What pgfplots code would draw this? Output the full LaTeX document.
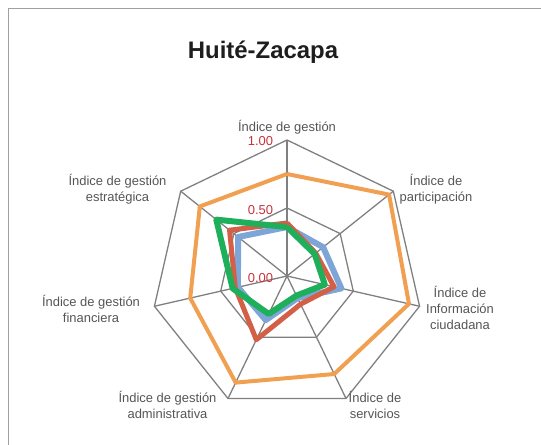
\documentclass[border=0pt]{standalone}
\usepackage{pgfplots}
\pgfplotsset{compat=1.18}
\usepgfplotslibrary{polar}
\usepackage{fontspec}
\setmainfont{Liberation Sans}
\definecolor{framegray}{RGB}{160,160,160}
\definecolor{gridgray}{RGB}{128,128,128}
\definecolor{labelcol}{RGB}{85,85,85}
\definecolor{titlecol}{RGB}{30,30,30}
\definecolor{tickred}{RGB}{200,50,60}
\definecolor{sorange}{RGB}{240,160,80}
\definecolor{sblue}{RGB}{125,165,215}
\definecolor{sred}{RGB}{210,95,70}
\definecolor{sgreen}{RGB}{30,175,90}
\begin{document}
\begin{tikzpicture}
\draw[framegray, line width=1bp] (8.5bp,-10bp) rectangle (560bp,436.5bp);
\node[font=\bfseries\fontsize{24}{28}\selectfont, text=titlecol, anchor=base] at (263bp,386bp) {Huité-Zacapa};
\begin{polaraxis}[
  at={(287bp,169bp)}, anchor=center,
  scale only axis, width=272bp, height=272bp,
  ymin=0, ymax=1, xmin=0, xmax=360,
  hide axis, clip=false,
]
% spokes
\addplot[gridgray, line width=1.3bp] coordinates {(90,0) (90,1)};
\addplot[gridgray, line width=1.3bp] coordinates {(38.571,0) (38.571,1)};
\addplot[gridgray, line width=1.3bp] coordinates {(-12.857,0) (-12.857,1)};
\addplot[gridgray, line width=1.3bp] coordinates {(-64.286,0) (-64.286,1)};
\addplot[gridgray, line width=1.3bp] coordinates {(-115.714,0) (-115.714,1)};
\addplot[gridgray, line width=1.3bp] coordinates {(-167.143,0) (-167.143,1)};
\addplot[gridgray, line width=1.3bp] coordinates {(141.429,0) (141.429,1)};
% rings
\addplot[gridgray, line width=1.3bp] coordinates {(90,0.5) (38.571,0.5) (-12.857,0.5) (-64.286,0.5) (-115.714,0.5) (-167.143,0.5) (141.429,0.5) (90,0.5)};
\addplot[gridgray, line width=1.3bp] coordinates {(90,1) (38.571,1) (-12.857,1) (-64.286,1) (-115.714,1) (-167.143,1) (141.429,1) (90,1)};
% series
\addplot[sorange, line width=4bp, line join=round] coordinates {(90,0.75) (38.571,0.96) (-12.857,0.92) (-64.286,0.80) (-115.714,0.87) (-167.143,0.73) (141.429,0.82) (90,0.75)};
\addplot[sblue, line width=6bp, line join=round] coordinates {(90,0.36) (38.571,0.34) (-12.857,0.41) (-64.286,0.18) (-115.714,0.36) (-167.143,0.37) (141.429,0.46) (90,0.36)};
\addplot[sred, line width=5bp, line join=round] coordinates {(90,0.39) (38.571,0.27) (-12.857,0.355) (-64.286,0.23) (-115.714,0.52) (-167.143,0.39) (141.429,0.54) (90,0.39)};
\addplot[sgreen, line width=6bp, line join=round] coordinates {(90,0.36) (38.571,0.26) (-12.857,0.285) (-64.286,0.16) (-115.714,0.31) (-167.143,0.41) (141.429,0.665) (90,0.36)};
\end{polaraxis}
% tick labels
\begin{scope}[every node/.style={text=tickred, font=\fontsize{13}{16}\selectfont, inner sep=0pt, anchor=east}]
\node at (273.3bp,304bp) {1.00};
\node at (273.3bp,235bp) {0.50};
\node at (273.3bp,167bp) {0.00};
\end{scope}
% category labels
\begin{scope}[every node/.style={text=labelcol, font=\fontsize{13}{16}\selectfont, align=center, inner sep=0pt}]
\node at (287bp,318bp) {Índice de gestión};
\node at (436bp,256bp) {Índice de\\participación};
\node at (460bp,137bp) {Índice de\\Información\\ciudadana};
\node at (375bp,40bp) {Índice de\\servicios};
\node at (167.5bp,40bp) {Índice de gestión\\administrativa};
\node at (91bp,136bp) {Índice de gestión\\financiera};
\node at (117.5bp,256bp) {Índice de gestión\\estratégica};
\end{scope}
\pgfresetboundingbox
\path[use as bounding box] (0,0) rectangle (541bp,445bp);
\end{tikzpicture}
\end{document}
